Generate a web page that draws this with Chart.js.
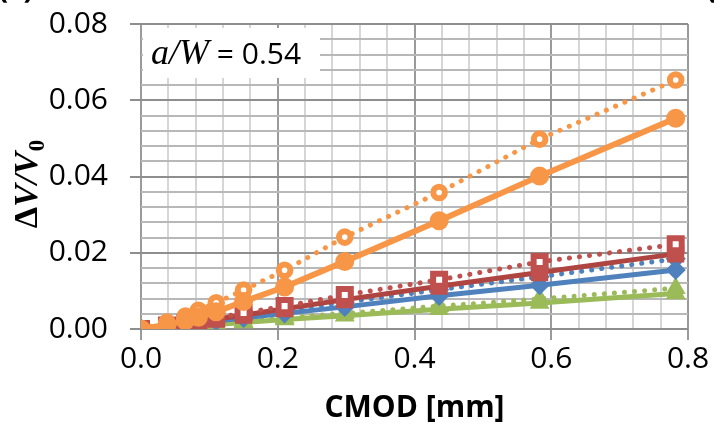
<!DOCTYPE html>
<html>
<head>
<meta charset="utf-8">
<script src="https://cdn.jsdelivr.net/npm/chart.js@4.4.1/dist/chart.umd.min.js"></script>
<style>
  html, body { margin: 0; padding: 0; background: #ffffff; }
  canvas { display: block; }
</style>
</head>
<body>
<canvas id="chart" width="714" height="428"></canvas>
<script>
// CMOD opening [mm] shared by every series
const cmod = [0, 0.038, 0.065, 0.084, 0.110, 0.150, 0.210, 0.298, 0.436, 0.583, 0.782];

// Relative change of potential, ΔV/V0
const orangeSolid  = [0, 0.0011, 0.0022, 0.0031, 0.0045, 0.0072, 0.0110, 0.0177, 0.0284, 0.0401, 0.0553];
const orangeDotted = [0, 0.0018, 0.0034, 0.0049, 0.0069, 0.0102, 0.0154, 0.0241, 0.0358, 0.0498, 0.0653];
const redSolid     = [0, 0.0008, 0.0014, 0.0019, 0.0026, 0.0036, 0.0053, 0.0077, 0.0112, 0.0148, 0.0197];
const redDotted    = [0, 0.0009, 0.0016, 0.0021, 0.0029, 0.0042, 0.0060, 0.0089, 0.0129, 0.0176, 0.0222];
const blueSolid    = [0, 0.0006, 0.0011, 0.0015, 0.0021, 0.0029, 0.0041, 0.0058, 0.0087, 0.0115, 0.0155];
const blueDotted   = [0, 0.0008, 0.0014, 0.0018, 0.0025, 0.0035, 0.0049, 0.0070, 0.0103, 0.0137, 0.0184];
const greenSolid   = [0, 0.0004, 0.0007, 0.0009, 0.0012, 0.0017, 0.0025, 0.0035, 0.0052, 0.0068, 0.0093];
const greenDotted  = [0, 0.0005, 0.0008, 0.0011, 0.0015, 0.0020, 0.0029, 0.0041, 0.0060, 0.0079, 0.0107];

// Axis ranges and tick spacing
const xRange = [0, 0.8], xMajor = 0.2, xMinor = 0.04;
const yRange = [0, 0.08], yMajor = 0.02, yMinor = 0.004;

const ORANGE = '#F79646', RED = '#C0504D', RED_LINE = '#AE4541', BLUE = '#4F81BD', GREEN = '#9BBB59';

const pts = arr => arr.map((v, i) => ({ x: cmod[i], y: v }));
const isMajor = (v, step) => Math.abs(v / step - Math.round(v / step)) < 1e-6;

const RADIUS = { circle: 8, rect: 10, rectRot: 8, triangle: 8.5 };

function solid(data, color, style, lineColor, width) {
  return {
    data: pts(data), borderColor: lineColor || color, borderWidth: width || 5,
    pointStyle: style, pointRadius: RADIUS[style],
    pointBackgroundColor: color, pointBorderColor: color, pointBorderWidth: 3,
    tension: 0, fill: false
  };
}
function dotted(data, color, style, open) {
  return {
    data: pts(data), borderColor: color, borderWidth: 5,
    borderDash: [0.1, 10], borderCapStyle: 'round',
    pointStyle: style,
    pointRadius: open ? (style === 'rect' ? 8.5 : 5.8) : RADIUS[style],
    pointBackgroundColor: open ? '#ffffff' : color, pointBorderColor: color,
    pointBorderWidth: open ? 6 : 3,
    tension: 0, fill: false
  };
}

// Axis title with subscript, and the annotation box
const decorations = {
  id: 'decorations',
  afterDraw(chart) {
    const ctx = chart.ctx;
    const area = chart.chartArea;
    ctx.save();
    // annotation box
    ctx.fillStyle = '#ffffff';
    ctx.fillRect(area.left + 2, area.top + 4, 177, 50);
    ctx.fillStyle = '#000000';
    ctx.textBaseline = 'alphabetic';
    ctx.textAlign = 'left';
    ctx.font = 'italic 36px "Liberation Serif"';
    const x0 = area.left + 10, base = area.top + 40;
    ctx.fillText('a/W', x0, base);
    const w = ctx.measureText('a/W').width;
    ctx.font = '30px "Open Sans"';
    ctx.fillText(' = 0.54', x0 + w, base);

    // vertical axis title ΔV/V0
    ctx.translate(37, (area.top + area.bottom) / 2 + 8);
    ctx.rotate(-Math.PI / 2);
    const parts = [
      { t: 'Δ', f: 'bold 34px "Liberation Serif"' },
      { t: 'V', f: 'bold italic 34px "Liberation Serif"' },
      { t: '/', f: 'bold italic 34px "Liberation Serif"' },
      { t: 'V', f: 'bold italic 34px "Liberation Serif"' }
    ];
    let total = 0;
    parts.forEach(p => { ctx.font = p.f; p.w = ctx.measureText(p.t).width; total += p.w; });
    ctx.font = 'bold 23px "Liberation Serif"';
    const subW = ctx.measureText('0').width;
    total += subW;
    let x = -total / 2;
    parts.forEach(p => { ctx.font = p.f; ctx.fillText(p.t, x, 0); x += p.w; });
    ctx.font = 'bold 23px "Liberation Serif"';
    ctx.fillText('0', x + 1, 7);
    ctx.restore();

    // neighbouring panel labels at the page edges
    ctx.save();
    ctx.fillStyle = '#000000';
    ctx.font = 'bold 30px "Open Sans"';
    ctx.textBaseline = 'alphabetic';
    ctx.fillText('(c)', -2, -2);
    ctx.fillText('(', 706, -2);
    ctx.restore();
  }
};

new Chart(document.getElementById('chart'), {
  type: 'scatter',
  data: {
    datasets: [
      solid(orangeSolid, ORANGE, 'circle', null, 6),
      dotted(orangeDotted, ORANGE, 'circle', true),
      dotted(redDotted, RED, 'rect', true),
      solid(redSolid, RED, 'rect', RED_LINE),
      dotted(blueDotted, BLUE, 'rectRot', false),
      solid(blueSolid, BLUE, 'rectRot'),
      dotted(greenDotted, GREEN, 'triangle', false),
      solid(greenSolid, GREEN, 'triangle')
    ].map(d => Object.assign(d, { showLine: true }))
  },
  options: {
    responsive: false,
    animation: false,
    events: [],
    layout: { padding: { left: 0, right: 26, top: 24, bottom: 0 } },
    plugins: { legend: { display: false }, tooltip: { enabled: false } },
    scales: {
      x: {
        type: 'linear', min: xRange[0], max: xRange[1],
        afterFit: s => { s.height = 99; s.paddingLeft = 0; s.paddingRight = 0; },
        border: { display: false },
        ticks: {
          stepSize: xMinor, autoSkip: false, maxRotation: 0, padding: 1,
          color: '#000000', font: { family: 'Open Sans', size: 30 },
          callback: v => isMajor(v, xMajor) ? v.toFixed(1) : ''
        },
        grid: {
          drawTicks: true, tickLength: 11, lineWidth: 2,
          color: c => isMajor(c.tick.value, xMajor) ? '#9a9a9a' : '#d6d6d6',
          tickColor: c => isMajor(c.tick.value, xMajor) ? '#9a9a9a' : 'rgba(0,0,0,0)'
        },
        title: {
          display: true, text: 'CMOD [mm]', color: '#000000',
          font: { family: 'Open Sans', size: 30, weight: 'bold' },
          padding: { top: 0, bottom: 2 }
        }
      },
      y: {
        type: 'linear', min: yRange[0], max: yRange[1],
        afterFit: s => { s.width = 141; s.paddingTop = 0; s.paddingBottom = 0; },
        border: { display: false },
        ticks: {
          stepSize: yMinor, autoSkip: false, padding: 22,
          color: '#000000', font: { family: 'Open Sans', size: 30 },
          callback: v => isMajor(v, yMajor) ? v.toFixed(2) : ''
        },
        grid: {
          drawTicks: true, tickLength: 11, lineWidth: 2,
          color: c => isMajor(c.tick.value, yMajor) ? '#8e8e8e' : '#b8b8b8',
          tickColor: c => isMajor(c.tick.value, yMajor) ? '#8e8e8e' : 'rgba(0,0,0,0)'
        }
      }
    }
  },
  plugins: [decorations]
});
</script>
</body>
</html>
